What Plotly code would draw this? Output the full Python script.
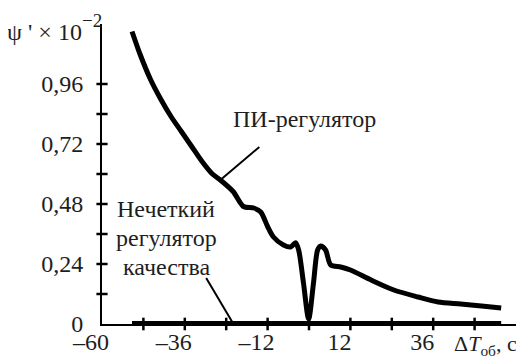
import plotly.graph_objects as go

# PI controller curve
pi_x = [-51.3, -49, -46, -43, -40, -37, -34, -31, -28, -25.7, -22, -19, -16, -14, -12,
        -10.3, -7.4, -5.3, -3.9, -3, -1.6, -0.1, 1.3, 2.5, 3.4, 4.8, 6.3, 9.2, 12, 18,
        24.6, 31.6, 37.4, 44, 50, 55.7]
pi_y = [1.17, 1.08, 0.98, 0.90, 0.83, 0.77, 0.71, 0.65, 0.60, 0.576, 0.53, 0.47, 0.464,
        0.448, 0.39, 0.348, 0.316, 0.308, 0.325, 0.296, 0.164, 0.02, 0.164, 0.296, 0.312,
        0.296, 0.236, 0.228, 0.216, 0.176, 0.136, 0.108, 0.088, 0.08, 0.072, 0.064]

# Fuzzy quality controller (zero line)
fz_x = [-51.3, 55.7]
fz_y = [0, 0]

x_tickvals = [-60, -36, -12, 12, 36]
x_ticktext = ["–60", "–36", "–12", "12", "36"]
x_minor = [-48, -36, -24, -12, 0, 12, 24, 36, 48]
y_tickvals = [0, 0.24, 0.48, 0.72, 0.96]
y_ticktext = ["0", "0,24", "0,48", "0,72", "0,96"]
y_minor = [0.12, 0.24, 0.36, 0.48, 0.60, 0.72, 0.84, 0.96]

fuzzy_lines = ["Нечеткий", "регулятор", "качества"]

FONT = "Liberation Serif, Times New Roman, serif"
TXT = "#1e1e1e"
fig = go.Figure()
fig.add_trace(go.Scatter(x=fz_x, y=fz_y, mode="lines", line=dict(color="black", width=6),
                         hoverinfo="skip", cliponaxis=False))
fig.add_trace(go.Scatter(x=pi_x, y=pi_y, mode="lines",
                         line=dict(color="black", width=5, shape="spline", smoothing=0.8),
                         hoverinfo="skip", cliponaxis=False))
# tick marks
fig.add_trace(go.Scatter(x=x_minor, y=[0]*len(x_minor), mode="markers",
                         marker=dict(symbol="line-ns", size=9, line=dict(color="black", width=2.5)),
                         hoverinfo="skip", cliponaxis=False))
fig.add_trace(go.Scatter(x=[-60]*len(y_minor), y=y_minor, mode="markers",
                         marker=dict(symbol="line-ew", size=8, line=dict(color="black", width=2.5)),
                         hoverinfo="skip", cliponaxis=False))
# pointer lines
fig.add_trace(go.Scatter(x=[-25.7, -14.4], y=[0.576, 0.708], mode="lines",
                         line=dict(color="black", width=2), hoverinfo="skip"))
fig.add_trace(go.Scatter(x=[-29.8, -21.9], y=[0.184, 0.0], mode="lines",
                         line=dict(color="black", width=2), hoverinfo="skip"))

fig.add_annotation(x=-1.3, y=0.82, text="ПИ-регулятор", showarrow=False,
                   font=dict(family=FONT, size=24, color=TXT))
for txt, yy in zip(fuzzy_lines, [0.46, 0.344, 0.228]):
    fig.add_annotation(x=-41.4, y=yy, text=txt, showarrow=False,
                       font=dict(family=FONT, size=24, color=TXT))
fig.add_annotation(xref="paper", yref="paper", x=-0.235, y=0.972, xanchor="left", yanchor="middle",
                   text="ψ ' × 10", showarrow=False,
                   font=dict(family=FONT, size=24, color=TXT))
fig.add_annotation(xref="paper", yref="paper", x=-0.024, y=1.012, xanchor="center", yanchor="middle",
                   text="−2", showarrow=False,
                   font=dict(family=FONT, size=19, color=TXT))
fig.add_annotation(xref="paper", yref="paper", x=0.846, y=-0.07, xanchor="left", yanchor="middle",
                   text="Δ<i>T</i><sub>об</sub>, c", showarrow=False,
                   font=dict(family=FONT, size=22, color=TXT))

# The page body has an 8px default margin, so the figure is sized to the visible area.
fig.update_layout(
    width=516, height=350, margin=dict(l=94, r=8, t=16, b=34, autoexpand=False),
    paper_bgcolor="white", plot_bgcolor="white", showlegend=False,
    font=dict(family=FONT, size=24, color=TXT),
    xaxis=dict(range=[-60, 60], showgrid=False, zeroline=False, showline=True, automargin=False,
               linecolor="black", linewidth=2, tickvals=x_tickvals, ticktext=x_ticktext,
               ticks="", ticklabelshift=-11, ticklabelstandoff=-5),
    yaxis=dict(range=[0, 1.2], showgrid=False, zeroline=False, showline=True, automargin=False,
               linecolor="black", linewidth=2, tickvals=y_tickvals, ticktext=y_ticktext,
               ticks="", ticklabelstandoff=12),
)
fig.write_html("out.html")
